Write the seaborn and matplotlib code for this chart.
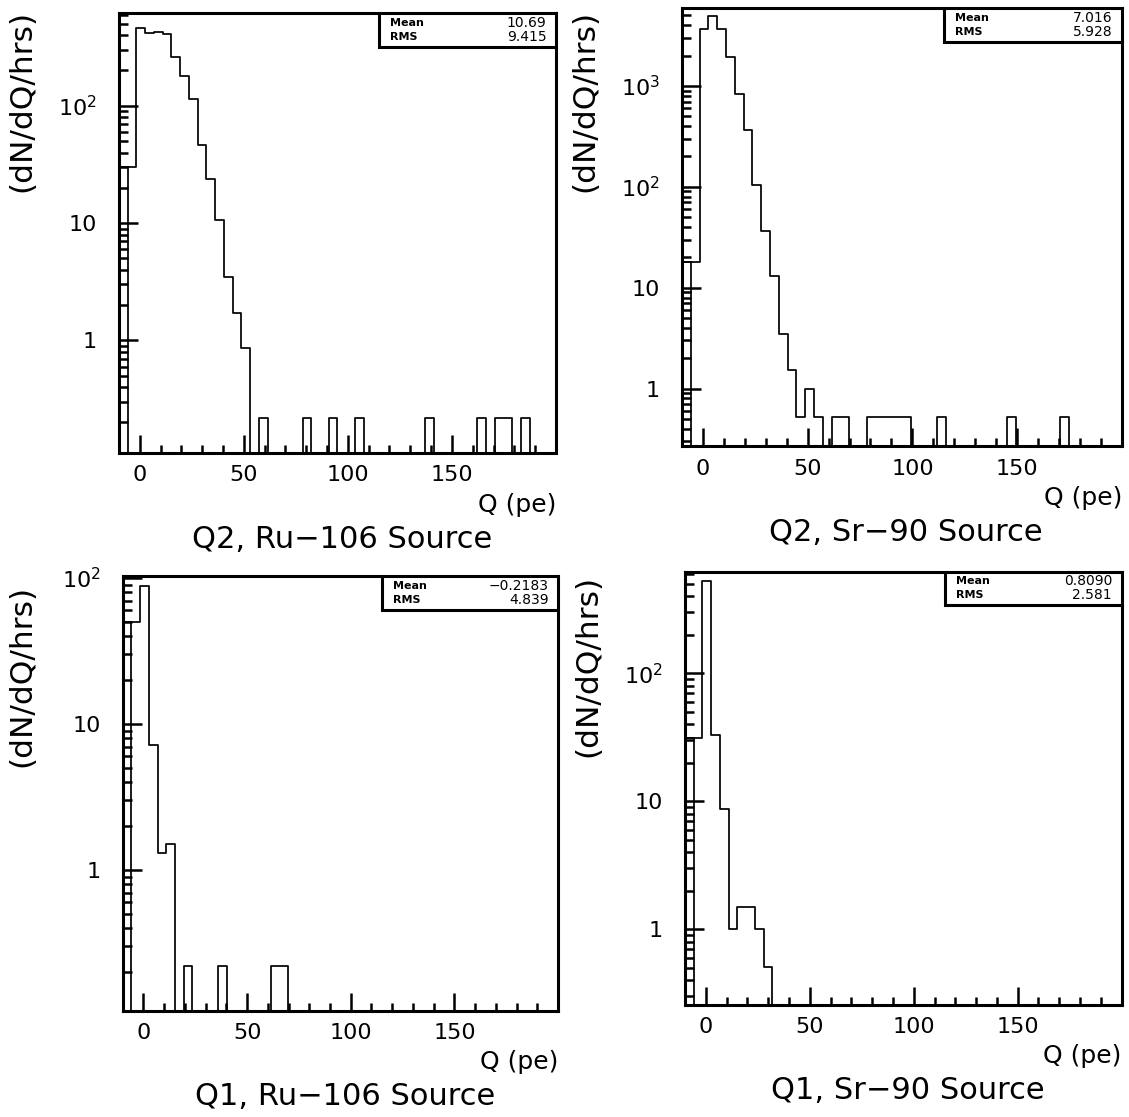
import numpy as np
import pandas as pd
import matplotlib
matplotlib.use('agg')
import matplotlib.pyplot as plt
from matplotlib.ticker import FixedLocator, MultipleLocator, LogLocator, NullFormatter, FuncFormatter
from matplotlib.patches import Rectangle
import seaborn as sns

# binning: 50 bins of 4.2 pe from -10 to 200
bin_lo, bin_hi, n_bins = -10, 200, 50

# dN/dQ/hrs per bin
q2_ru = [30, 30, 460, 418, 425, 408, 259, 178, 114, 46.6, 23.9, 10.7, 3.47, 1.73, 0.87,
         0, 0.22, 0, 0, 0, 0, 0.22, 0, 0, 0.22, 0, 0, 0.22, 0, 0, 0, 0, 0, 0, 0,
         0.22, 0, 0, 0, 0, 0, 0.22, 0, 0.22, 0.22, 0, 0.22, 0, 0, 0]
q2_sr = [18, 18, 3650, 4970, 3650, 1920, 831, 365, 104, 36.4, 13.1, 3.51, 1.52, 0.523, 1.0, 0.523,
         0, 0.523, 0.523, 0, 0, 0.523, 0.523, 0.523, 0.523, 0.523, 0, 0, 0, 0.523,
         0, 0, 0, 0, 0, 0, 0, 0.523, 0, 0, 0, 0, 0, 0.523, 0, 0, 0, 0, 0, 0]
q1_ru = [50, 50, 88, 7.18, 1.30, 1.52, 0, 0.22, 0, 0, 0, 0.22, 0, 0, 0, 0, 0, 0.22, 0.22] + [0] * 31
q1_sr = [31, 31, 529, 33, 8.66, 1.0, 1.49, 1.49, 1.0, 0.505] + [0] * 40

titles = ['Q2, Ru\u2212106 Source', 'Q2, Sr\u221290 Source',
          'Q1, Ru\u2212106 Source', 'Q1, Sr\u221290 Source']
means = ['10.69', '7.016', '\u22120.2183', '0.8090']
rms = ['9.415', '5.928', '4.839', '2.581']
y_ranges = [(0.11, 620), (0.27, 5900), (0.109, 103), (0.256, 622)]
y_majors = [[1, 10, 100], [1, 10, 100, 1000], [1, 10, 100], [1, 10, 100]]

sns.set_theme(style='white')
plt.rcParams['font.family'] = ['DejaVu Sans']
plt.rcParams['mathtext.default'] = 'regular'
for key in ['text.color', 'axes.labelcolor', 'xtick.color', 'ytick.color',
            'xtick.labelcolor', 'ytick.labelcolor']:
    plt.rcParams[key] = 'black'

fig = plt.figure(figsize=(11.29, 11.17), dpi=100)

# axes boxes in figure fraction [left, bottom, width, height]
boxes = [[0.1054, 0.5945, 0.387, 0.394],
         [0.604, 0.6007, 0.3897, 0.392],
         [0.1087, 0.0952, 0.3856, 0.389],
         [0.6067, 0.1003, 0.3868, 0.388]]
ylab_pos = [(-0.222, 1.007), (-0.22, 0.995), (-0.231, 0.98), (-0.222, 0.992)]

edges = np.linspace(bin_lo, bin_hi, n_bins + 1)
centers = (edges[:-1] + edges[1:]) / 2
binw = edges[1] - edges[0]


def pow_label(v, pos):
    if v < 50:
        return f'{int(round(v))}'
    return '$10^{%d}$' % int(round(np.log10(v)))


for k, counts in enumerate([q2_ru, q2_sr, q1_ru, q1_sr]):
    assert len(counts) == n_bins
    df = pd.DataFrame({'q': centers, 'w': counts})
    ax = fig.add_axes(boxes[k])
    ax.set_yscale('log')
    sns.histplot(data=df, x='q', weights='w', binwidth=binw, binrange=(bin_lo, bin_hi),
                 element='step', fill=False, color='black', linewidth=1.25, ax=ax)
    # first bin drawn as its own box (the "ladder" at the left edge)
    ax.bar(edges[0], counts[0], width=binw, align='edge', fill=False,
           edgecolor='black', linewidth=1.25)

    ax.set_xlim(bin_lo, bin_hi)
    ax.set_ylim(*y_ranges[k])
    ax.set_xlabel('')
    ax.set_ylabel('')

    ax.xaxis.set_major_locator(FixedLocator([0, 50, 100, 150]))
    ax.xaxis.set_minor_locator(MultipleLocator(10))
    ax.yaxis.set_major_locator(FixedLocator(y_majors[k]))
    ax.yaxis.set_major_formatter(FuncFormatter(pow_label))
    ax.yaxis.set_minor_locator(LogLocator(base=10, subs=np.arange(2, 10)))
    ax.yaxis.set_minor_formatter(NullFormatter())

    ax.tick_params(axis='both', which='both', direction='in', color='black', width=1.8,
                   bottom=True, left=True, top=False, right=False, labelcolor='black')
    ax.tick_params(axis='x', which='major', length=13, labelsize=16, pad=9)
    ax.tick_params(axis='x', which='minor', length=5.5)
    ax.tick_params(axis='y', which='major', length=14, labelsize=16, pad=16)
    ax.tick_params(axis='y', which='minor', length=6.5)
    for s in ax.spines.values():
        s.set_color('black')
        s.set_linewidth(2.2)
        s.set_zorder(5)

    # stats box
    ax.add_patch(Rectangle((0.595, 0.922), 0.405, 0.078, transform=ax.transAxes,
                           facecolor='white', edgecolor='black', linewidth=2.2, zorder=6))
    ax.text(0.62, 0.978, 'Mean', transform=ax.transAxes, fontsize=8, fontweight='bold',
            ha='left', va='center', zorder=7)
    ax.text(0.62, 0.946, 'RMS', transform=ax.transAxes, fontsize=8, fontweight='bold',
            ha='left', va='center', zorder=7)
    ax.text(0.978, 0.978, means[k], transform=ax.transAxes, fontsize=10,
            ha='right', va='center', zorder=7)
    ax.text(0.978, 0.946, rms[k], transform=ax.transAxes, fontsize=10,
            ha='right', va='center', zorder=7)

    ax.text(ylab_pos[k][0], ylab_pos[k][1], '(dN/dQ/hrs)', transform=ax.transAxes,
            rotation=90, ha='center', va='top', fontsize=22.5)
    ax.text(1.0, -0.118, 'Q (pe)', transform=ax.transAxes, ha='right', va='center', fontsize=18)
    ax.text(0.51, -0.197, titles[k], transform=ax.transAxes, ha='center', va='center', fontsize=22)

fig.savefig('out.png', dpi=100, facecolor='white')
